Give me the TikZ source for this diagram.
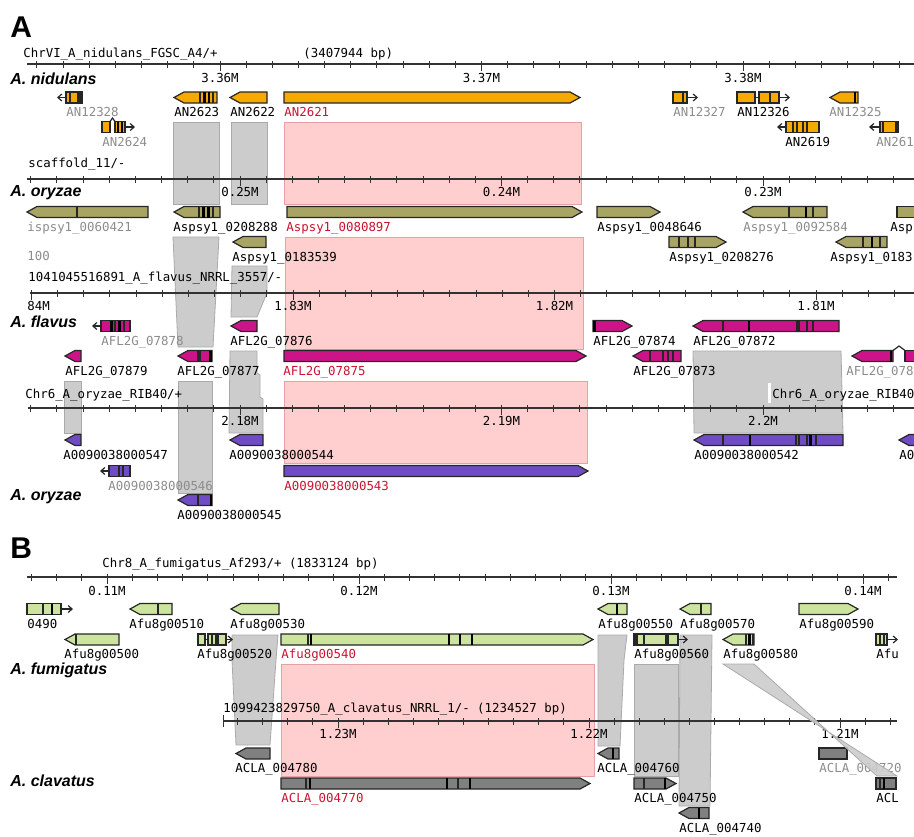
\documentclass[tikz,border=0pt]{standalone}
\usepackage{fontspec}
\usetikzlibrary{arrows.meta}
\newfontfamily\monofont{DejaVu Sans Mono}
\newfontfamily\headfont{Liberation Sans}

\definecolor{nidcol}{RGB}{246,170,0}
\definecolor{orycol}{RGB}{168,164,100}
\definecolor{flacol}{RGB}{204,20,136}
\definecolor{ribcol}{RGB}{112,76,196}
\definecolor{fumcol}{RGB}{204,228,160}
\definecolor{clacol}{RGB}{128,128,128}
\definecolor{homgray}{RGB}{204,204,204}
\definecolor{homedge}{RGB}{170,170,170}
\definecolor{synpink}{RGB}{255,206,206}
\definecolor{synedge}{RGB}{232,160,165}
\definecolor{lblgray}{RGB}{140,140,140}
\definecolor{lblred}{RGB}{200,20,50}
\definecolor{rulcol}{RGB}{50,50,50}

\tikzset{
  gene/.style={draw=black!85, line width=0.6pt},
  nid/.style={gene, fill=nidcol},
  ory/.style={gene, fill=orycol},
  fla/.style={gene, fill=flacol},
  rib/.style={gene, fill=ribcol},
  fum/.style={gene, fill=fumcol},
  cla/.style={gene, fill=clacol},
  divider/.style={draw=black!85, line width=0.6pt},
  thickdiv/.style={draw=black, line width=1.3pt},
  hom/.style={fill=homgray, draw=homedge, line width=0.4pt},
  syn/.style={fill=synpink, draw=synedge, line width=0.5pt},
  rul/.style={draw=rulcol, line width=0.8pt},
  tick/.style={draw=rulcol, line width=0.5pt},
  dirarrow/.style={draw=black!85, line width=0.6pt, -{Straight Barb[length=2pt,width=3.5pt]}},
  lbl/.style={anchor=base west, inner sep=0pt, font=\monofont\fontsize{6.2}{7}\selectfont},
  lblg/.style={lbl, text=lblgray},
  lblr/.style={lbl, text=lblred},
  mlbl/.style={anchor=base, inner sep=0pt, font=\monofont\fontsize{6.2}{7}\selectfont},
  species/.style={anchor=base west, inner sep=0pt, font=\headfont\fontsize{8}{9}\selectfont\bfseries\itshape},
  panel/.style={anchor=base west, inner sep=0pt, font=\headfont\fontsize{15}{16}\selectfont\bfseries},
}

% genes: style, x start, x end, y centre
\newcommand{\geneL}[4]{\filldraw[#1] (#2,#4) -- ({#2+10},{#4-5.5}) -- (#3,{#4-5.5}) -- (#3,{#4+5.5}) -- ({#2+10},{#4+5.5}) -- cycle;}
\newcommand{\geneR}[4]{\filldraw[#1] (#2,{#4-5.5}) -- ({#3-10},{#4-5.5}) -- (#3,#4) -- ({#3-10},{#4+5.5}) -- (#2,{#4+5.5}) -- cycle;}
\newcommand{\geneB}[4]{\filldraw[#1] (#2,{#4-5.5}) rectangle (#3,{#4+5.5});}
% exon borders: y centre, list of x
\newcommand{\gdiv}[2]{\foreach \xd in {#2} \draw[divider] (\xd,{#1-5.5}) -- (\xd,{#1+5.5});}
\newcommand{\gbar}[2]{\foreach \xd in {#2} \draw[thickdiv] (\xd,{#1-5.5}) -- (\xd,{#1+5.5});}

\begin{document}
\begin{tikzpicture}[x=0.5pt, y=-0.5pt]
\useasboundingbox (0,0) rectangle (914,836);
\clip (0,0) rectangle (914,836);

% ================= panel A =================
\node[panel] (panelA) at (10,37) {A};

% homology blocks
\filldraw[hom] (173,122) rectangle (219,204);
\filldraw[hom] (231,122) rectangle (267,204);
\filldraw[syn] (284,122) rectangle (581,204);
\filldraw[hom] (173,237) -- (219,237) -- (213,347) -- (178,347) -- cycle;
\filldraw[hom] (232,266) -- (267,266) -- (267,293) -- (257,317) -- (231,317) -- cycle;
\filldraw[syn] (285,237) rectangle (583,349);
\filldraw[hom] (64,381) rectangle (81,433);
\filldraw[hom] (178,381) rectangle (212,493);
\filldraw[hom] (230,351) -- (257,351) -- (257,373) -- (260,375) -- (260,397) -- (263,399) -- (263,433) -- (229,433) -- cycle;
\filldraw[syn] (284,381) rectangle (587,463);
\filldraw[hom] (693,351) -- (841,351) -- (843,433) -- (694,433) -- cycle;
\fill[white] (768,383) rectangle (771,403);

% A. nidulans
\node[lbl] (chrVI) at (23,57) {ChrVI\_A\_nidulans\_FGSC\_A4/+};
\node[lbl] (bpVI) at (303,57) {(3407944 bp)};
\draw[rul] (27,64) -- (914,64);
\foreach \k in {-7,...,26} \draw[tick] ({220+26.15*\k},61) -- ++(0,6.5);
\foreach \k in {0,1,2} \draw[tick] ({220+261.5*\k},61.5) -- ++(0,9.5);
\node[mlbl] (m336) at (220,82) {3.36M};
\node[mlbl] (m337) at (481.5,82) {3.37M};
\node[mlbl] (m338) at (743,82) {3.38M};
\node[species] (spNid) at (10,84) {A. nidulans};

\draw[dirarrow] (66,97.5) -- (57,97.5);
\geneB{nid}{66}{78}{97.5} \gdiv{97.5}{70}
\draw[gene] (78,97.5) -- (80,97.5); \geneB{nid}{80}{82}{97.5}
\geneL{nid}{174}{217}{97.5} \gdiv{97.5}{200,213} \gbar{97.5}{204.5,209}
\geneL{nid}{230}{267}{97.5}
\geneR{nid}{284}{580}{97.5}
\geneB{nid}{673}{687}{97.5} \gdiv{97.5}{683}
\draw[dirarrow] (687,97.5) -- (698,97.5);
\geneB{nid}{737}{755}{97.5} \draw[gene] (755,97.5) -- (759,97.5);
\geneB{nid}{759}{779}{97.5} \gdiv{97.5}{770}
\draw[dirarrow] (779,97.5) -- (790,97.5);
\geneL{nid}{830}{858}{97.5} \gbar{97.5}{855}
\geneB{nid}{102}{110}{127} \draw[gene] (110,121.5) -- (112.5,118) -- (115,121.5);
\geneB{nid}{115}{125}{127} \gbar{127}{118,122}
\draw[dirarrow] (125,127) -- (135,127);
\draw[dirarrow] (786,127) -- (777,127);
\geneB{nid}{786}{819}{127} \gdiv{127}{793,797,803,807}
\draw[dirarrow] (880,127) -- (869,127);
\geneB{nid}{880}{898}{127} \gdiv{127}{883,896}

\node[lblg] (AN12328) at (66,116.5) {AN12328};
\node[lbl] (AN2623) at (174,116.5) {AN2623};
\node[lbl] (AN2622) at (230,116.5) {AN2622};
\node[lblr] (AN2621) at (284,116.5) {AN2621};
\node[lblg] (AN12327) at (673,116.5) {AN12327};
\node[lbl] (AN12326) at (737,116.5) {AN12326};
\node[lblg] (AN12325) at (829,116.5) {AN12325};
\node[lblg] (AN2624) at (102,146) {AN2624};
\node[lbl] (AN2619) at (785,146) {AN2619};
\node[lblg] (AN261) at (876,146) {AN261};

% A. oryzae (scaffold)
\node[lbl] (scaf) at (28,167) {scaffold\_11/-};
\draw[rul] (27,179) -- (914,179);
\foreach \k in {-8,...,25} \draw[tick] ({240+26.15*\k},176) -- ++(0,6.5);
\foreach \k in {0,1,2} \draw[tick] ({240+261.5*\k},176.5) -- ++(0,9.5);
\node[mlbl] (m025) at (240,196.5) {0.25M};
\node[mlbl] (m024) at (501.5,196.5) {0.24M};
\node[mlbl] (m023) at (763,196.5) {0.23M};
\node[species] (spOry) at (10,196) {A. oryzae};

\geneL{ory}{27}{148}{212} \gdiv{212}{77}
\geneL{ory}{174}{220}{212} \gdiv{212}{199,213} \gbar{212}{203.5,208.5}
\geneR{ory}{287}{582}{212}
\geneR{ory}{597}{660}{212}
\geneL{ory}{743}{827}{212} \gdiv{212}{789,813} \gbar{212}{806}
\geneB{ory}{897}{920}{212}
\geneL{ory}{233}{266}{242}
\geneR{ory}{669}{726}{242} \gdiv{242}{679,688,695}
\geneL{ory}{836}{887}{242} \gdiv{242}{863,880} \gbar{242}{872}

\node[lblg] (sp0421) at (27,231) {ispsy1\_0060421};
\node[lbl] (sp8288) at (173,231) {Aspsy1\_0208288};
\node[lblr] (sp0897) at (286,231) {Aspsy1\_0080897};
\node[lbl] (sp8646) at (597,231) {Aspsy1\_0048646};
\node[lblg] (sp2584) at (743,231) {Aspsy1\_0092584};
\node[lbl] (spAsp) at (890,231) {Asp};
\node[lbl] (sp3539) at (232,261) {Aspsy1\_0183539};
\node[lbl] (sp8276) at (669,261) {Aspsy1\_0208276};
\node[lbl] (sp0183) at (830,261) {Aspsy1\_0183};
\node[lblg] (score) at (27,260) {100};

% A. flavus
\node[lbl] (flavus) at (28,281) {1041045516891\_A\_flavus\_NRRL\_3557/-};
\draw[rul] (30,293) -- (914,293);
\foreach \k in {-10,...,23} \draw[tick] ({293+26.15*\k},290) -- ++(0,6.5);
\foreach \k in {-1,0,1,2} \draw[tick] ({293+261.5*\k},290.5) -- ++(0,9.5);
\node[lbl] (m184) at (27,310.5) {84M};
\node[mlbl] (m183) at (293,310.5) {1.83M};
\node[mlbl] (m182) at (554.5,310.5) {1.82M};
\node[mlbl] (m181) at (816,310.5) {1.81M};
\node[species] (spFla) at (10,327) {A. flavus};

\draw[dirarrow] (101,326) -- (92,326);
\geneB{fla}{101}{130}{326} \gdiv{326}{115,124} \gbar{326}{111.5,119.5}
\geneL{fla}{231}{257}{326}
\geneR{fla}{593}{632}{326} \gbar{326}{594.5}
\geneL{fla}{693}{839}{326} \gdiv{326}{723,797,799,807,813} \gbar{326}{749}
\geneL{fla}{65}{81}{356}
\geneL{fla}{178}{212}{356} \gdiv{356}{198,200} \gbar{356}{210.5}
\geneR{fla}{284}{586}{356}
\geneL{fla}{633}{681}{356} \gdiv{356}{650,663,668,673}
\geneL{fla}{852}{893}{356} \gbar{356}{891}
\draw[gene] (893,350.5) -- (899,346) -- (905,350.5);
\geneB{fla}{905}{920}{356}

\node[lblg] (fl7878) at (101,345) {AFL2G\_07878};
\node[lbl] (fl7876) at (230,345) {AFL2G\_07876};
\node[lbl] (fl7874) at (593,345) {AFL2G\_07874};
\node[lbl] (fl7872) at (693,345) {AFL2G\_07872};
\node[lbl] (fl7879) at (65,375) {AFL2G\_07879};
\node[lbl] (fl7877) at (177,375) {AFL2G\_07877};
\node[lblr] (fl7875) at (283,375) {AFL2G\_07875};
\node[lbl] (fl7873) at (633,375) {AFL2G\_07873};
\node[lblg] (fl078) at (846,375) {AFL2G\_078};

% A. oryzae (RIB40)
\node[lbl] (rib) at (25,398) {Chr6\_A\_oryzae\_RIB40/+};
\node[lbl] (ribb) at (772,398) {Chr6\_A\_oryzae\_RIB40};
\draw[rul] (28,408) -- (914,408);
\foreach \k in {-8,...,25} \draw[tick] ({240+26.15*\k},405) -- ++(0,6.5);
\foreach \k in {0,1,2} \draw[tick] ({240+261.5*\k},405.5) -- ++(0,9.5);
\node[mlbl] (m218) at (240,425.5) {2.18M};
\node[mlbl] (m219) at (501.5,425.5) {2.19M};
\node[mlbl] (m22) at (763,425.5) {2.2M};
\node[species] (spRib) at (10,500) {A. oryzae};

\geneL{rib}{65}{81}{440}
\geneL{rib}{230}{263}{440}
\geneL{rib}{694}{843}{440} \gdiv{440}{723,796,799,807,816} \gbar{440}{750,810.5}
\geneL{rib}{899}{920}{440}
\draw[dirarrow] (109,471) -- (100,471);
\geneB{rib}{109}{130}{471} \gdiv{471}{119,123}
\geneR{rib}{284}{588}{471}
\geneL{rib}{178}{212}{500} \gdiv{500}{198} \gbar{500}{211}

\node[lbl] (ao547) at (63,459) {A0090038000547};
\node[lbl] (ao544) at (229,459) {A0090038000544};
\node[lbl] (ao542) at (694,459) {A0090038000542};
\node[lbl] (aoA0) at (899,459) {A0};
\node[lblg] (ao546) at (108,490) {A0090038000546};
\node[lblr] (ao543) at (284,490) {A0090038000543};
\node[lbl] (ao545) at (177,519) {A0090038000545};

% ================= panel B =================
\node[panel] (panelB) at (10,558) {B};

% homology blocks
\filldraw[hom] (232,635) -- (278,635) -- (276,660) -- (270,745) -- (236,745) -- (232,660) -- cycle;
\filldraw[syn] (281,664) rectangle (594,776);
\filldraw[hom] (598,635) -- (627,635) -- (624,660) -- (620,746) -- (598,746) -- cycle;
\filldraw[hom] (634,664) rectangle (678,776);
\filldraw[hom] (680,635) -- (712,635) -- (710,806) -- (679,806) -- cycle;

% A. fumigatus
\node[lbl] (chr8) at (102,567) {Chr8\_A\_fumigatus\_Af293/+ (1833124 bp)};
\draw[rul] (27,577) -- (897,577);
\foreach \k in {-3,...,31} \draw[tick] ({107+25.2*\k},574) -- ++(0,6.5);
\foreach \k in {0,1,2,3} \draw[tick] ({107+252*\k},574.5) -- ++(0,9.5);
\node[mlbl] (m011) at (107,595) {0.11M};
\node[mlbl] (m012) at (359,595) {0.12M};
\node[mlbl] (m013) at (611,595) {0.13M};
\node[mlbl] (m014) at (863,595) {0.14M};
\node[species] (spFum) at (10,674) {A. fumigatus};

\geneB{fum}{27}{61}{609} \gdiv{609}{43} \gbar{609}{52}
\draw[dirarrow] (61,609) -- (73,609);
\geneL{fum}{130}{172}{609} \gdiv{609}{158}
\geneL{fum}{231}{279}{609}
\geneL{fum}{598}{627}{609} \gbar{609}{617}
\geneL{fum}{680}{711}{609} \gdiv{609}{701}
\geneR{fum}{799}{858}{609}
\geneL{fum}{65}{119}{639.5} \gdiv{639.5}{76}
\geneB{fum}{198}{205}{639.5} \draw[gene] (205,639.5) -- (208,639.5);
\geneB{fum}{208}{216}{639.5} \gdiv{639.5}{212} \draw[gene] (216,639.5) -- (218,639.5);
\geneB{fum}{218}{226}{639.5}
\draw[dirarrow] (226,639.5) -- (233,639.5);
\geneR{fum}{281}{593}{639.5} \gdiv{639.5}{308} \gbar{639.5}{311,449,460,472}
\geneB{fum}{634}{636}{639.5}
\geneB{fum}{637}{666}{639.5} \gdiv{639.5}{644} \draw[gene] (666,639.5) -- (668,639.5);
\geneB{fum}{668}{678}{639.5}
\draw[dirarrow] (678,639.5) -- (688,639.5);
\geneL{fum}{723}{754}{639.5} \gdiv{639.5}{746,753} \gbar{639.5}{749.5}
\geneB{fum}{876}{887}{639.5} \gdiv{639.5}{880,884}
\draw[dirarrow] (887,639.5) -- (898,639.5);

\node[lbl] (af0490) at (27,628) {0490};
\node[lbl] (af0510) at (129,628) {Afu8g00510};
\node[lbl] (af0530) at (230,628) {Afu8g00530};
\node[lbl] (af0550) at (598,628) {Afu8g00550};
\node[lbl] (af0570) at (680,628) {Afu8g00570};
\node[lbl] (af0590) at (799,628) {Afu8g00590};
\node[lbl] (af0500) at (64,658.5) {Afu8g00500};
\node[lbl] (af0520) at (197,658.5) {Afu8g00520};
\node[lblr] (af0540) at (281,658.5) {Afu8g00540};
\node[lbl] (af0560) at (634,658.5) {Afu8g00560};
\node[lbl] (af0580) at (723,658.5) {Afu8g00580};
\node[lbl] (afAfu) at (876,658.5) {Afu};

% A. clavatus
\node[lbl] (clav) at (223,712) {1099423829750\_A\_clavatus\_NRRL\_1/- (1234527 bp)};
\draw[rul] (223,721) -- (897,721);
\draw[tick] (223,715) -- (223,727);
\foreach \k in {-4,...,22} \draw[tick] ({338+25.1*\k},718) -- ++(0,6.5);
\foreach \k in {0,1,2} \draw[tick] ({338+251*\k},718.5) -- ++(0,9.5);
\node[mlbl] (m123) at (338,738.5) {1.23M};
\node[mlbl] (m122) at (589,738.5) {1.22M};
\node[mlbl] (m121) at (840,738.5) {1.21M};
\node[species] (spCla) at (10,786) {A. clavatus};

\geneL{cla}{236}{270}{753.5}
\geneL{cla}{598}{619}{753.5} \gbar{753.5}{613}
\geneB{cla}{819}{847}{753.5}
\geneR{cla}{281}{590}{783.5} \gdiv{783.5}{306,458} \gbar{783.5}{310,447,470}
\geneR{cla}{634}{676}{783.5} \gdiv{783.5}{644} \gbar{783.5}{665}
\geneB{cla}{876}{896}{783.5} \gdiv{783.5}{880} \gbar{783.5}{884}
\geneL{cla}{679}{709}{813} \gbar{813}{699}

\node[lbl] (ac4780) at (235,772.5) {ACLA\_004780};
\node[lbl] (ac4760) at (597,772.5) {ACLA\_004760};
\node[lblg] (ac4720) at (819,772.5) {ACLA\_004720};
\node[lblr] (ac4770) at (281,802.5) {ACLA\_004770};
\node[lbl] (ac4750) at (634,802.5) {ACLA\_004750};
\node[lbl] (acACL) at (876,802.5) {ACL};
\node[lbl] (ac4740) at (679,832) {ACLA\_004740};

% inverted block over the clavatus labels
\filldraw[hom, fill opacity=0.9] (723,664) -- (754,664) -- (877,776) -- (897,776) -- cycle;
\end{tikzpicture}
\end{document}
